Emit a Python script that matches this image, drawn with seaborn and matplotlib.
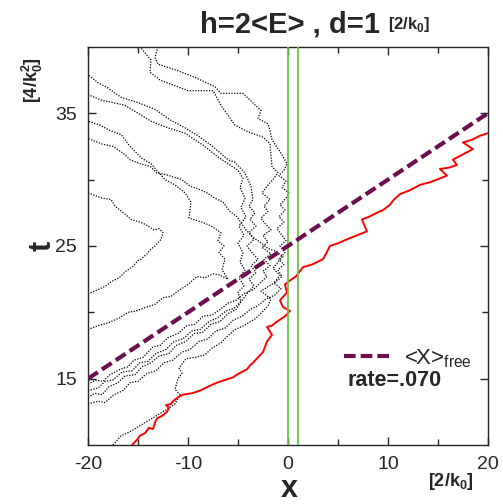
import matplotlib
matplotlib.use("Agg")
import matplotlib.pyplot as plt
import seaborn as sns

# reflected (black, dotted) trajectories, (x, t) pairs
traj_a = [(-20.0, 21.4), (-19.0, 21.7), (-18.2, 22.0), (-17.7, 22.3), (-16.9, 22.6), (-16.2, 23.1),
          (-15.6, 23.4), (-15.0, 23.9), (-14.7, 24.0), (-14.1, 24.4), (-13.8, 24.7), (-13.3, 25.0),
          (-12.7, 25.5), (-12.5, 26.0), (-12.9, 26.3), (-13.4, 26.2), (-14.2, 26.6), (-14.8, 26.8),
          (-15.7, 27.0), (-16.3, 27.4), (-17.3, 28.0), (-17.7, 28.5), (-18.6, 28.6), (-19.3, 28.8),
          (-20.0, 29.0)]
traj_b = [(-20.0, 18.7), (-19.0, 19.0), (-18.0, 19.2), (-16.8, 19.6), (-16.0, 20.0), (-15.2, 20.1),
          (-14.5, 20.3), (-13.3, 20.6), (-12.5, 21.1), (-11.7, 21.2), (-11.0, 21.6), (-10.0, 22.1),
          (-9.1, 22.7), (-8.3, 22.6), (-7.5, 22.9), (-6.8, 22.8), (-6.0, 22.5), (-6.6, 23.2),
          (-6.3, 24.0), (-6.9, 24.5), (-6.4, 25.0), (-7.0, 25.4), (-6.7, 26.0), (-7.7, 26.5),
          (-8.6, 26.8), (-9.9, 27.1), (-9.7, 28.3), (-10.3, 29.0), (-11.3, 29.6), (-12.3, 30.0),
          (-13.0, 30.6), (-13.7, 31.2), (-14.6, 31.6), (-15.8, 32.5), (-16.7, 33.4), (-17.8, 33.7),
          (-18.8, 34.1), (-20.0, 34.4)]
traj_c = [(-17.5, 10.0), (-16.7, 10.7), (-15.8, 11.0), (-14.3, 11.7), (-13.6, 12.0), (-12.3, 12.6),
          (-11.3, 13.1), (-10.8, 13.8), (-11.3, 14.2), (-11.0, 15.0), (-10.6, 15.4), (-10.9, 15.8),
          (-10.2, 16.5), (-9.3, 16.6), (-8.3, 16.8), (-7.6, 17.3), (-6.7, 17.7), (-6.2, 18.1),
          (-5.3, 18.7), (-4.4, 19.0), (-3.3, 19.5), (-2.6, 20.0), (-2.0, 20.5), (-1.7, 21.0),
          (-2.7, 21.6), (-1.2, 22.3), (-0.6, 22.7), (-1.0, 23.2), (-0.4, 23.6), (-0.9, 24.0),
          (-0.3, 24.5), (-0.8, 25.0), (-0.2, 25.4), (-0.7, 25.9), (-1.1, 26.3), (-0.4, 26.8),
          (-0.9, 27.2), (-0.3, 27.7), (-0.8, 28.1), (-0.2, 28.6), (0.1, 29.0), (-0.6, 29.4),
          (-0.2, 29.9), (-0.9, 30.3), (-0.4, 30.7), (-0.1, 31.2), (-0.7, 32.0), (-1.6, 33.0),
          (-1.8, 33.7), (-2.0, 34.2), (-3.0, 34.6), (-2.7, 35.2), (-4.5, 36.5), (-6.7, 36.5),
          (-7.3, 37.0), (-9.3, 37.7), (-11.0, 38.2), (-13.0, 38.7), (-13.3, 39.2), (-13.0, 40.0)]
traj_d = [(-20.0, 14.6), (-19.2, 14.9), (-18.5, 14.8), (-17.8, 15.3), (-16.8, 15.7), (-16.0, 15.9),
          (-15.4, 16.4), (-14.5, 16.6), (-13.5, 17.4), (-12.8, 17.5), (-12.0, 18.1), (-11.0, 18.4),
          (-10.1, 19.0), (-9.3, 19.1), (-8.5, 19.7), (-7.6, 19.8), (-6.8, 20.2), (-6.0, 20.7),
          (-5.2, 20.9), (-4.4, 21.4), (-3.5, 21.7), (-2.8, 22.2), (-2.1, 22.7), (-2.5, 23.1),
          (-1.8, 23.5), (-2.4, 24.0), (-1.7, 24.4), (-2.6, 24.9), (-2.0, 25.3), (-2.5, 25.8),
          (-1.7, 26.2), (-2.3, 26.7), (-2.7, 27.1), (-2.0, 27.6), (-2.4, 28.0), (-1.8, 28.5),
          (-2.6, 29.0), (-2.1, 29.5), (-1.5, 30.0), (-1.0, 30.5), (-1.6, 31.0), (-1.8, 32.7),
          (-2.5, 33.2), (-4.0, 33.6), (-5.3, 34.1), (-6.7, 35.6), (-7.5, 36.7), (-10.0, 36.7),
          (-12.8, 37.5), (-13.8, 38.1), (-13.7, 39.0), (-14.8, 40.0)]
traj_e = [(-20.0, 14.1), (-19.0, 14.3), (-18.3, 14.8), (-17.5, 14.9), (-16.6, 15.5), (-15.6, 15.6),
          (-14.8, 16.2), (-14.0, 16.3), (-13.2, 16.9), (-12.2, 17.2), (-11.4, 17.8), (-10.5, 18.0),
          (-9.6, 18.6), (-8.8, 18.7), (-7.9, 19.3), (-7.0, 19.6), (-6.2, 20.1), (-5.4, 20.3),
          (-4.6, 20.9), (-4.0, 21.5), (-3.4, 22.0), (-3.9, 22.5), (-3.2, 23.0), (-3.7, 23.5),
          (-3.0, 24.0), (-3.6, 24.5), (-4.1, 25.0), (-3.4, 25.5), (-3.9, 26.0), (-3.2, 26.5),
          (-3.8, 27.0), (-3.3, 27.5), (-3.9, 28.0), (-3.5, 28.5), (-3.7, 29.5), (-4.3, 30.5),
          (-5.3, 31.3), (-6.0, 31.5), (-7.7, 32.6), (-9.0, 33.3), (-10.3, 33.9), (-11.8, 34.5),
          (-13.3, 35.3), (-15.0, 35.8), (-16.7, 36.2), (-18.0, 36.9), (-19.0, 37.3), (-20.0, 37.9)]
traj_f = [(-20.0, 13.6), (-19.3, 13.9), (-18.6, 13.8), (-17.9, 14.4), (-17.0, 14.7), (-16.3, 15.2),
          (-15.3, 15.3), (-14.6, 15.9), (-13.7, 16.2), (-12.9, 16.7), (-11.9, 16.9), (-11.2, 17.5),
          (-10.2, 17.8), (-9.4, 18.4), (-8.5, 18.5), (-7.7, 19.1), (-6.8, 19.3), (-6.0, 19.9),
          (-5.2, 20.2), (-4.7, 20.8), (-5.0, 21.5), (-4.4, 22.0), (-4.9, 22.6), (-4.3, 23.2),
          (-4.8, 23.8), (-4.5, 24.5), (-5.0, 25.2), (-4.4, 25.8), (-4.9, 26.5), (-4.2, 27.2),
          (-4.7, 27.9), (-4.3, 28.6), (-4.8, 29.4), (-4.5, 30.1), (-5.0, 30.7), (-6.0, 31.2),
          (-7.0, 31.7), (-8.5, 32.6), (-10.3, 33.5), (-12.0, 33.9), (-13.7, 34.4), (-15.0, 35.0),
          (-16.3, 35.6), (-17.5, 35.8), (-18.7, 36.0), (-20.0, 36.4)]
traj_g = [(-20.0, 13.1), (-19.0, 13.3), (-18.3, 13.2), (-17.4, 13.8), (-16.5, 14.1), (-15.8, 14.7),
          (-15.0, 14.8), (-14.1, 15.4), (-13.2, 15.6), (-12.4, 16.2), (-11.5, 16.4), (-10.6, 17.0),
          (-9.8, 17.2), (-8.9, 17.8), (-8.0, 18.0), (-7.2, 18.6), (-6.3, 18.8), (-5.5, 19.4),
          (-4.6, 19.7), (-3.8, 20.2), (-3.0, 20.5), (-2.2, 21.0), (-1.3, 21.3), (-0.7, 21.8),
          (-1.4, 22.2), (-0.8, 22.8), (-1.5, 23.3), (-1.0, 23.8), (-0.5, 24.2), (-1.2, 24.6),
          (-2.0, 24.8), (-2.8, 25.3), (-3.4, 25.6), (-4.2, 26.2), (-5.1, 27.2), (-5.8, 27.6),
          (-6.5, 28.3), (-7.3, 28.6), (-8.1, 29.0), (-9.0, 29.3), (-9.8, 29.5), (-10.6, 30.0),
          (-11.5, 30.2), (-12.3, 30.4), (-13.1, 30.5), (-13.8, 31.0), (-14.8, 31.2), (-15.8, 31.5),
          (-16.5, 32.0), (-17.5, 32.5), (-18.7, 32.7), (-20.0, 33.1)]
reflected = [traj_a, traj_b, traj_c, traj_d, traj_e, traj_f, traj_g]

# transmitted trajectory (red)
transmitted = [(-15.6, 10.0), (-15.1, 10.4), (-14.8, 10.7), (-14.3, 10.9), (-13.9, 11.3), (-13.5, 11.2),
               (-13.3, 11.7), (-13.1, 12.0), (-12.6, 12.2), (-12.1, 12.5), (-11.9, 12.8), (-12.2, 13.0),
               (-11.7, 13.1), (-11.5, 13.3), (-11.0, 13.6), (-10.5, 13.8), (-9.6, 13.9), (-8.8, 14.1),
               (-8.0, 14.4), (-7.1, 14.7), (-6.3, 14.9), (-5.5, 15.1), (-4.9, 15.4), (-4.1, 15.7),
               (-3.8, 16.0), (-3.5, 16.2), (-3.0, 16.6), (-2.5, 17.0), (-2.3, 17.4), (-2.1, 17.8),
               (-1.6, 18.3), (-2.1, 18.9), (-1.6, 19.0), (-1.1, 19.3), (-0.3, 19.7), (0.2, 20.1),
               (-0.5, 20.4), (-0.8, 20.9), (-0.1, 21.5), (-0.3, 22.1), (0.2, 22.4), (0.8, 22.7),
               (1.5, 23.4), (2.4, 23.6), (3.5, 24.0), (3.8, 24.4), (4.2, 25.0), (5.0, 25.2),
               (5.9, 25.5), (6.9, 25.8), (7.9, 26.1), (7.4, 27.0), (8.1, 27.2), (8.9, 27.5),
               (9.5, 27.7), (10.2, 28.1), (10.6, 28.5), (11.2, 28.9), (12.2, 29.2), (13.2, 29.6),
               (14.2, 29.8), (14.9, 30.0), (15.9, 30.3), (15.2, 30.8), (16.1, 30.9), (16.9, 31.1),
               (16.5, 31.5), (17.5, 31.9), (18.5, 32.3), (17.5, 32.8), (18.4, 33.0), (19.2, 33.3),
               (20.0, 33.5)]

# free-particle mean position
free_x = [-20, 20]
free_t = [15, 35]

barrier_edges = [0, 1]
x_ticks = [-20, -10, 0, 10, 20]
t_ticks = [15, 25, 35]

sns.set_style("ticks")
plt.rcParams["font.family"] = ["Liberation Sans", "DejaVu Sans"]
plt.rcParams["mathtext.fontset"] = "custom"
plt.rcParams["mathtext.rm"] = "Liberation Sans"
plt.rcParams["mathtext.bf"] = "Liberation Sans:bold"
plt.rcParams["axes.unicode_minus"] = False

fig = plt.figure(figsize=(5.03, 5.04), dpi=100)
ax = fig.add_axes([0.175, 0.117, 0.795, 0.79])

for tr in reflected:
    sns.lineplot(x=[p[0] for p in tr], y=[p[1] for p in tr], sort=False, estimator=None,
                 color="black", lw=0.9, linestyle=(0, (1, 1.2)), legend=False, ax=ax, zorder=2)

sns.lineplot(x=[p[0] for p in transmitted], y=[p[1] for p in transmitted], sort=False,
             estimator=None, color="red", lw=1.4, legend=False, ax=ax, zorder=3)

for xb in barrier_edges:
    ax.axvline(xb, color="#6cc24a", lw=1.3, zorder=4)

sns.lineplot(x=free_x, y=free_t, color="#6b0f4f", lw=3, dashes=False, ax=ax, zorder=5,
             label=r"<X>$_{\rm free}$")
ax.lines[-1].set_dashes((2.8, 1.2))

ax.set_xlim(-20, 20)
ax.set_ylim(10, 40)
ax.set_xticks(x_ticks)
ax.set_xticks([-15, -5, 5, 15], minor=True)
ax.set_yticks(t_ticks)
ax.set_yticks([20, 30], minor=True)
ax.tick_params(which="both", direction="in", top=True, right=True, labelsize=14, pad=8)
ax.tick_params(which="major", length=6, width=1)
ax.tick_params(which="minor", length=4, width=1)
for s in ax.spines.values():
    s.set_linewidth(1)
ax.set_xlabel("")
ax.set_ylabel("")

leg = ax.legend(loc="center left", bbox_to_anchor=(0.64, 0.218), frameon=False, fontsize=16,
                handlelength=2.05, handletextpad=0.65, borderpad=0, borderaxespad=0)
ax.text(0.65, 0.163, "rate=.070", transform=ax.transAxes, fontsize=15.5, fontweight="bold",
        va="center", ha="left")

fig.text(0.398, 0.952, "h=2<E> , d=1", fontsize=21, fontweight="bold", ha="left", va="center")
fig.text(0.771, 0.952, r"[2/k$_\mathbf{0}$]", fontsize=12, fontweight="bold", ha="left", va="center")
fig.text(0.576, 0.03, "x", fontsize=22, fontweight="bold", ha="center", va="center")
fig.text(0.85, 0.045, r"[2/k$_\mathbf{0}$]", fontsize=13, fontweight="bold", ha="left", va="center")
fig.text(0.085, 0.513, "t", fontsize=22, fontweight="bold", rotation=90, ha="center", va="center")
fig.text(0.065, 0.84, r"[4/k$_\mathbf{0}^\mathbf{2}$]", fontsize=13, fontweight="bold", rotation=90,
         ha="center", va="center")

fig.savefig("out.png", dpi=100)
